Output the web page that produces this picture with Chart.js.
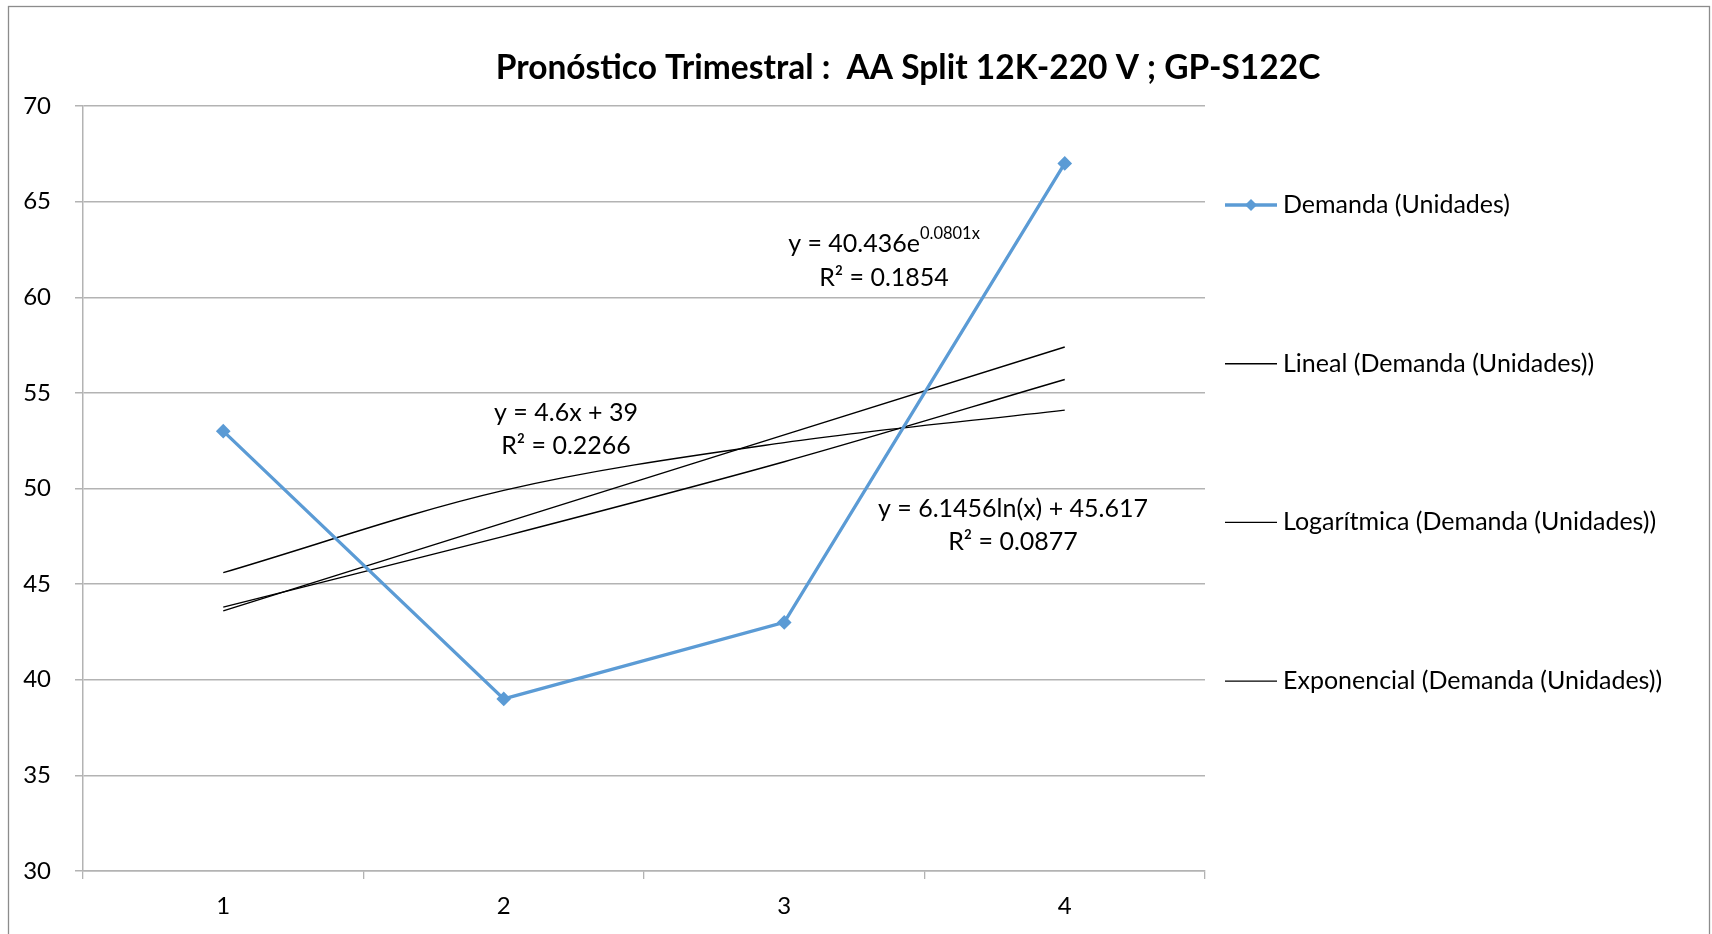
<!DOCTYPE html>
<html lang="es">
<head>
<meta charset="UTF-8">
<title>Pronóstico Trimestral</title>
<script src="https://cdn.jsdelivr.net/npm/chart.js"></script>
<style>
  html, body { margin: 0; padding: 0; background: #fff; }
  #wrap { position: relative; width: 1712px; height: 934px; }
</style>
</head>
<body>
<div id="wrap"><canvas id="grafico"></canvas></div>
<script>
// valores
const trimestres = ['1', '2', '3', '4'];
const demanda = [53, 39, 43, 67];
const tendLineal = [43.6, 48.2, 52.8, 57.4];
const tendLog = [45.6, 49.9, 52.4, 54.1];
const tendExp = [43.8, 47.5, 51.4, 55.7];
const ticksY = [30, 35, 40, 45, 50, 55, 60, 65, 70];

const titulo = 'Pronóstico Trimestral :  AA Split 12K-220 V ; GP-S122C';
const FUENTE = 'Lato, "Open Sans", sans-serif';
const GRIS = '#b3b3b3';
const AZUL = '#5b9bd5';

Chart.defaults.font.family = FUENTE;
Chart.defaults.color = '#000';

// etiquetas de ecuaciones (texto, centro x, y)
const ecuaciones = [
  { txt: ['y = 4.6x + 39', 'R² = 0.2266'], x: 566, y: 413 },
  { txt: ['y = 40.436e', 'R² = 0.1854'], sup: '0.0801x', x: 884, y: 244 },
  { txt: ['y = 6.1456ln(x) + 45.617', 'R² = 0.0877'], x: 1013, y: 509 }
];

const decorado = {
  id: 'decorado',
  afterDraw(chart) {
    const ctx = chart.ctx;
    ctx.save();
    // marco exterior
    ctx.strokeStyle = '#8c8c8c';
    ctx.lineWidth = 1.3;
    ctx.strokeRect(8.5, 6.5, 1701, 1000);

    // título
    ctx.fillStyle = '#000';
    ctx.textAlign = 'center';
    ctx.textBaseline = 'middle';
    ctx.font = 'bold 33.5px ' + FUENTE;
    ctx.fillText(titulo, 908, 68);

    // leyenda
    ctx.font = '25px ' + FUENTE;
    chart.data.datasets.forEach((ds, i) => {
      const y = 205 + i * 158.7;
      ctx.strokeStyle = ds.borderColor;
      ctx.lineWidth = ds.borderWidth;
      ctx.beginPath();
      ctx.moveTo(1225, y);
      ctx.lineTo(1277, y);
      ctx.stroke();
      if (ds.pointRadius > 0) {
        ctx.fillStyle = ds.pointBackgroundColor;
        ctx.beginPath();
        ctx.moveTo(1251, y - 6);
        ctx.lineTo(1257, y);
        ctx.lineTo(1251, y + 6);
        ctx.lineTo(1245, y);
        ctx.closePath();
        ctx.fill();
      }
      ctx.fillStyle = '#000';
      ctx.textAlign = 'left';
      ctx.fillText(ds.label, 1283, y);
    });

    // ecuaciones de tendencia
    const fNormal = '25px ' + FUENTE;
    const fSup = '16.5px ' + FUENTE;
    ecuaciones.forEach(e => {
      ctx.font = fNormal;
      if (e.sup) {
        const w1 = ctx.measureText(e.txt[0]).width;
        ctx.font = fSup;
        const w2 = ctx.measureText(e.sup).width;
        const x0 = e.x - (w1 + w2) / 2;
        ctx.textAlign = 'left';
        ctx.font = fNormal;
        ctx.fillText(e.txt[0], x0, e.y);
        ctx.font = fSup;
        ctx.fillText(e.sup, x0 + w1, e.y - 10);
        ctx.font = fNormal;
        ctx.textAlign = 'center';
        ctx.fillText(e.txt[1], e.x, e.y + 34);
      } else {
        ctx.textAlign = 'center';
        ctx.fillText(e.txt[0], e.x, e.y);
        ctx.fillText(e.txt[1], e.x, e.y + 33);
      }
    });
    ctx.restore();
  }
};

new Chart(document.getElementById('grafico'), {
  type: 'line',
  data: {
    labels: trimestres,
    datasets: [
      {
        label: 'Demanda (Unidades)',
        data: demanda,
        borderColor: AZUL,
        backgroundColor: AZUL,
        pointBackgroundColor: AZUL,
        pointBorderColor: AZUL,
        borderWidth: 3.3,
        pointStyle: 'rectRot',
        pointRadius: 5,
        tension: 0
      },
      {
        label: 'Lineal (Demanda (Unidades))',
        data: tendLineal,
        borderColor: '#000',
        borderWidth: 1.4,
        pointRadius: 0,
        tension: 0
      },
      {
        label: 'Logarítmica (Demanda (Unidades))',
        data: tendLog,
        borderColor: '#000',
        borderWidth: 1.4,
        pointRadius: 0,
        cubicInterpolationMode: 'monotone'
      },
      {
        label: 'Exponencial (Demanda (Unidades))',
        data: tendExp,
        borderColor: '#000',
        borderWidth: 1.4,
        pointRadius: 0,
        cubicInterpolationMode: 'monotone'
      }
    ]
  },
  options: {
    responsive: true,
    maintainAspectRatio: false,
    animation: false,
    layout: { padding: { top: 106, right: 507, bottom: 0, left: 0 } },
    plugins: {
      legend: { display: false },
      title: { display: false },
      tooltip: { enabled: false }
    },
    scales: {
      x: {
        offset: true,
        afterFit(s) { s.height = 63; },
        grid: { offset: true, drawOnChartArea: false, drawTicks: true, tickLength: 8, color: GRIS, lineWidth: 1.3 },
        border: { color: GRIS, width: 1.5 },
        ticks: { font: { size: 24 }, padding: 13, color: '#000' }
      },
      y: {
        min: 30,
        max: 70,
        afterFit(s) { s.width = 83; },
        afterBuildTicks(s) { s.ticks = ticksY.map(v => ({ value: v })); },
        grid: { color: GRIS, lineWidth: 1.5, tickLength: 8 },
        border: { color: GRIS, width: 1.5 },
        ticks: { font: { size: 24 }, padding: 24, color: '#000' }
      }
    }
  },
  plugins: [decorado]
});
</script>
</body>
</html>
